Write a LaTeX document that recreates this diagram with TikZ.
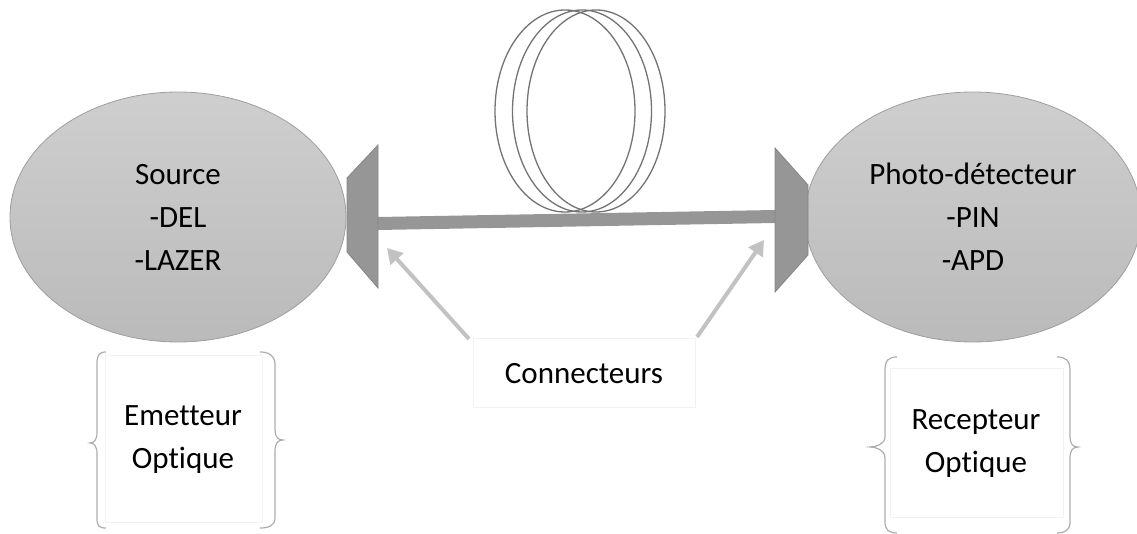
\documentclass[tikz,border=0pt]{standalone}
\usepackage{fontspec}
\setmainfont{Carlito}[Ligatures=NoCommon]
\usetikzlibrary{shapes.geometric,arrows.meta}
\tikzset{
  blob/.style={ellipse, draw=black!38, line width=0.8pt, top color=black!19, bottom color=black!27,
    minimum width=336pt, minimum height=250pt, inner sep=0pt, align=center,
    font=\fontsize{31}{43}\selectfont},
  conn/.style={fill=black!41, draw=black!48, line width=0.8pt},
  fiber/.style={draw=black!41, line width=13pt},
  coil/.style={draw=black!55, line width=1.3pt},
  pointer/.style={draw=black!24, line width=4pt, -{Triangle[length=15pt,width=17pt]}},
  brace/.style={draw=black!32, line width=1.2pt},
  faint/.style={draw=black!5, line width=0.8pt, fill=white},
  lbl/.style={align=center, font=\fontsize{31}{43}\selectfont, inner sep=0pt}
}
\begin{document}
\begin{tikzpicture}[x=1pt,y=-1pt]
\useasboundingbox (0,0) rectangle (1137,534);
\clip (0,0) rectangle (1137,534);

% coil
\draw[coil] (565,111) ellipse [x radius=70, y radius=101];
\draw[coil] (582,111) ellipse [x radius=69.5, y radius=101];
\draw[coil] (596,111) ellipse [x radius=69, y radius=101];

% ellipses
\node[blob] (src) at (178,217) {Source\\-DEL\\-LAZER};
\node[blob] (det) at (973,217) {Photo-détecteur\\-PIN\\-APD};

% connectors
\coordinate (cl) at (378,223.5);
\coordinate (cr) at (775,216.5);
\draw[fiber] (cl) -- (cr);
\draw[conn] (347,178) -- (378,145) -- (378,288) -- (347,252) -- cycle;
\draw[conn] (775,148) -- (808,185) -- (808,255) -- (775,292) -- cycle;
\coordinate (tipL) at (387,248);
\coordinate (tipR) at (764,240);

% Connecteurs label
\draw[faint] (473,338) rectangle (695,407);
\node[lbl] (lab) at (584,374) {Connecteurs};
\coordinate (tailL) at (469,339);
\coordinate (tailR) at (697,337);
\draw[pointer] (tailL) -- (tipL);
\draw[pointer] (tailR) -- (tipR);

% left group
\draw[faint] (105,355) rectangle (262,522);
\draw[brace] (106,352) .. controls (99,352) and (97,355) .. (97,364) -- (97,432)
  .. controls (97,440) and (94,443) .. (90,443) .. controls (94,443) and (97,446) .. (97,454)
  -- (97,518) .. controls (97,526) and (99,528) .. (106,528);
\draw[brace] (260,352) .. controls (268,352) and (275,355) .. (275,364) -- (275,430)
  .. controls (275,437) and (278,440) .. (283,440) .. controls (278,440) and (275,443) .. (275,451)
  -- (275,518) .. controls (275,526) and (268,528) .. (260,528);
\node[lbl] (emt) at (183,440) {Emetteur\\Optique};

% right group
\draw[faint] (890,368) rectangle (1063,517);
\draw[brace] (897,357) .. controls (889,357) and (885,360) .. (885,370) -- (885,437)
  .. controls (885,444) and (876,447) .. (870,447) .. controls (876,447) and (885,450) .. (885,458)
  -- (885,522) .. controls (885,530) and (889,533) .. (897,533);
\draw[brace] (1057,357) .. controls (1065,357) and (1070,360) .. (1070,370) -- (1070,437)
  .. controls (1070,444) and (1073,447) .. (1078,447) .. controls (1073,447) and (1070,450) .. (1070,458)
  -- (1070,522) .. controls (1070,530) and (1065,533) .. (1057,533);
\node[lbl] (rcp) at (976,444) {Recepteur\\Optique};
\end{tikzpicture}
\end{document}
